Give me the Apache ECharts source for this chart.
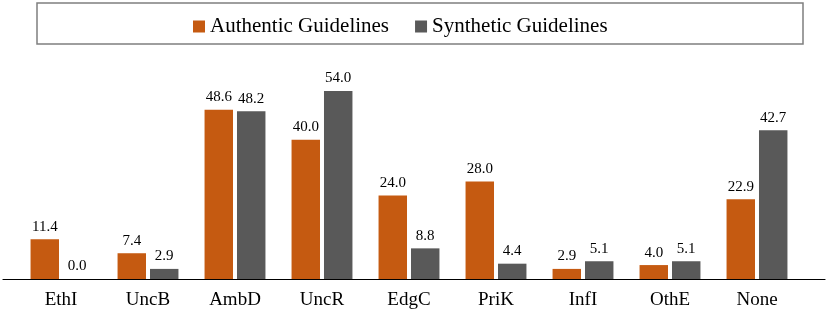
<!DOCTYPE html>
<html><head><meta charset="utf-8">
<script src="https://cdn.jsdelivr.net/npm/echarts@6/dist/echarts.min.js"></script>
<style>html,body{margin:0;padding:0;background:#fff}#c{width:830px;height:312px}</style>
</head><body><div id="c"></div>
<script>
const categories = ['EthI','UncB','AmbD','UncR','EdgC','PriK','InfI','OthE','None'];
const authentic = [11.4, 7.4, 48.6, 40.0, 24.0, 28.0, 2.9, 4.0, 22.9];
const synthetic = [0.0, 2.9, 48.2, 54.0, 8.8, 4.4, 5.1, 5.1, 42.7];
const seriesNames = ['Authentic Guidelines', 'Synthetic Guidelines'];
const font = '"Liberation Serif", "Times New Roman", serif';
const chart = echarts.init(document.getElementById('c'), null, {renderer:'canvas'});
const lbl = {show:true, position:'top', distance:5, color:'#000', fontFamily:font, fontSize:15, formatter: p => p.value.toFixed(1)};
chart.setOption({
  animation:false,
  textStyle:{fontFamily:font},
  graphic:[{type:'rect', shape:{x:37, y:3, width:766, height:41}, style:{fill:'none', stroke:'#7f7f7f', lineWidth:1.5}}],
  legend:{top:11, left:188, itemWidth:12, itemHeight:12, itemGap:26, icon:'rect',
    textStyle:{fontFamily:font, fontSize:21, color:'#000'}, data:seriesNames},
  grid:[{left:17.5, right:29.5, top:91, bottom:33}, {left:3, right:5, top:91, bottom:33}],
  xAxis:[{type:'category', data:categories, gridIndex:0,
    axisLine:{show:false}, axisTick:{show:false},
    axisLabel:{color:'#000', fontFamily:font, fontSize:19, margin:12}},
    {type:'value', gridIndex:1, min:0, max:1, axisLine:{show:true, lineStyle:{color:'#000', width:1.2}},
     axisTick:{show:false}, axisLabel:{show:false}, splitLine:{show:false}}],
  yAxis:[{type:'value', min:0, max:54, show:false, splitLine:{show:false}, gridIndex:0},
    {type:'value', min:0, max:1, show:false, splitLine:{show:false}, gridIndex:1}],
  series:[
    {name:seriesNames[0], type:'bar', data:authentic, itemStyle:{color:'#c55a11'}, barGap:'14%', barCategoryGap:'30%', label:lbl},
    {name:seriesNames[1], type:'bar', data:synthetic, itemStyle:{color:'#595959'}, label:lbl}
  ]
});
</script></body></html>
